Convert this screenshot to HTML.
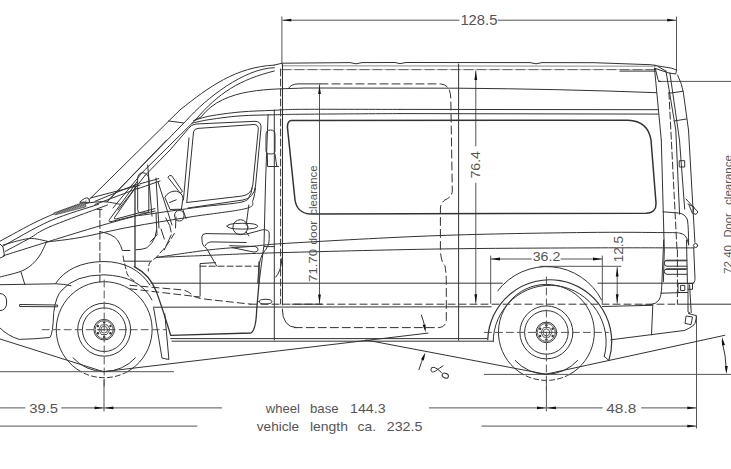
<!DOCTYPE html>
<html><head><meta charset="utf-8"><style>
html,body{margin:0;padding:0;background:#fff;width:731px;height:469px;overflow:hidden}
svg{display:block}
text{font-family:"Liberation Sans",sans-serif}
</style></head><body>
<svg width="731" height="469" viewBox="0 0 731 469" stroke-linecap="round" stroke-linejoin="round">
<line x1="281.9" y1="17" x2="281.9" y2="64" stroke="#555" stroke-width="1"/>
<line x1="676.5" y1="17" x2="676.5" y2="70" stroke="#555" stroke-width="1"/>
<line x1="283" y1="20.2" x2="459" y2="20.2" stroke="#555" stroke-width="1"/>
<line x1="498" y1="20.2" x2="676" y2="20.2" stroke="#555" stroke-width="1"/>
<polygon points="282.3,20.2 291.3,18.8 291.3,21.6" fill="#111"/>
<polygon points="676.2,20.2 667.2,21.6 667.2,18.8" fill="#111"/>
<line x1="658.4" y1="81.4" x2="731" y2="81.4" stroke="#555" stroke-width="1"/>
<line x1="0" y1="407.9" x2="25" y2="407.9" stroke="#555" stroke-width="1"/>
<line x1="61.7" y1="407.9" x2="103.5" y2="407.9" stroke="#555" stroke-width="1"/>
<polygon points="103.6,407.9 94.6,409.3 94.6,406.5" fill="#111"/>
<line x1="104.5" y1="407.9" x2="221.6" y2="407.9" stroke="#555" stroke-width="1"/>
<polygon points="104.4,407.9 113.4,406.5 113.4,409.3" fill="#111"/>
<line x1="104" y1="380" x2="104" y2="411" stroke="#555" stroke-width="1"/>
<line x1="429.4" y1="407.9" x2="546" y2="407.9" stroke="#555" stroke-width="1"/>
<polygon points="546,407.9 537,409.3 537,406.5" fill="#111"/>
<line x1="546.4" y1="380" x2="546.4" y2="411" stroke="#555" stroke-width="1"/>
<line x1="547" y1="407.9" x2="602.3" y2="407.9" stroke="#555" stroke-width="1"/>
<polygon points="546.8,407.9 555.8,406.5 555.8,409.3" fill="#111"/>
<line x1="641.6" y1="407.9" x2="696.5" y2="407.9" stroke="#555" stroke-width="1"/>
<polygon points="696.3,407.9 687.3,409.3 687.3,406.5" fill="#111"/>
<line x1="696.5" y1="316" x2="696.5" y2="428" stroke="#555" stroke-width="1"/>
<line x1="0" y1="426.1" x2="197" y2="426.1" stroke="#555" stroke-width="1"/>
<line x1="482" y1="426.1" x2="696" y2="426.1" stroke="#555" stroke-width="1"/>
<polygon points="696.3,426.1 687.3,427.5 687.3,424.7" fill="#111"/>
<line x1="490.7" y1="256" x2="490.7" y2="303.3" stroke="#555" stroke-width="1"/>
<line x1="602.3" y1="256" x2="602.3" y2="303.3" stroke="#555" stroke-width="1"/>
<line x1="491" y1="259" x2="531.3" y2="259" stroke="#555" stroke-width="1"/>
<line x1="561" y1="259" x2="602" y2="259" stroke="#555" stroke-width="1"/>
<polygon points="491,259 500,257.6 500,260.4" fill="#111"/>
<polygon points="602,259 593,260.4 593,257.6" fill="#111"/>
<line x1="540" y1="266.3" x2="621" y2="266.3" stroke="#555" stroke-width="1"/>
<line x1="617.2" y1="267.6" x2="617.2" y2="303" stroke="#555" stroke-width="1"/>
<polygon points="617.2,267.4 618.6,276.4 615.8,276.4" fill="#111"/>
<polygon points="617.2,303.3 615.8,294.3 618.6,294.3" fill="#111"/>
<line x1="475.8" y1="71" x2="475.8" y2="145.9" stroke="#555" stroke-width="1"/>
<line x1="475.8" y1="183.1" x2="475.8" y2="303" stroke="#555" stroke-width="1"/>
<polygon points="475.8,71 477.2,80 474.4,80" fill="#111"/>
<polygon points="475.8,303.3 474.4,294.3 477.2,294.3" fill="#111"/>
<line x1="319.5" y1="85" x2="319.5" y2="303.4" stroke="#555" stroke-width="1"/>
<polygon points="319.5,85 320.9,94 318.1,94" fill="#111"/>
<polygon points="319.5,303.6 318.1,294.6 320.9,294.6" fill="#111"/>
<path d="M80.93,371.68 A48,48 0 1 1 127.47,371.68" fill="none" stroke="#333" stroke-width="1"/>
<path d="M127.47,371.68 A48,48 0 0 1 80.93,371.68" fill="none" stroke="#333" stroke-width="1" stroke-dasharray="5 3"/>
<path d="M135.41,357.80 A42,42 0 0 1 72.99,357.80" fill="none" stroke="#333" stroke-width="1"/>
<circle cx="104.2" cy="329.7" r="26.5" fill="none" stroke="#333" stroke-width="1"/>
<circle cx="104.2" cy="329.7" r="21.8" fill="none" stroke="#333" stroke-width="1"/>
<circle cx="104.2" cy="329.7" r="10.3" fill="none" stroke="#333" stroke-width="1"/>
<circle cx="104.2" cy="329.7" r="9" fill="none" stroke="#333" stroke-width="0.8"/>
<circle cx="104.2" cy="329.7" r="3.4" fill="none" stroke="#333" stroke-width="0.8"/>
<polygon points="109.8,329.7 107,334.5 101.4,334.5 98.6,329.7 101.4,324.9 107,324.9" fill="none" stroke="#333" stroke-width="0.8"/>
<circle cx="104.20" cy="322.50" r="1.2" fill="#333"/>
<circle cx="97.96" cy="326.10" r="1.2" fill="#333"/>
<circle cx="97.96" cy="333.30" r="1.2" fill="#333"/>
<circle cx="104.20" cy="336.90" r="1.2" fill="#333"/>
<circle cx="110.44" cy="333.30" r="1.2" fill="#333"/>
<circle cx="110.44" cy="326.10" r="1.2" fill="#333"/>
<line x1="99.2" y1="329.7" x2="109.2" y2="329.7" stroke="#333" stroke-width="0.8"/>
<line x1="104.2" y1="280" x2="104.2" y2="387.7" stroke="#555" stroke-width="1" stroke-dasharray="7 4"/>
<line x1="42.2" y1="329.7" x2="166.2" y2="329.7" stroke="#555" stroke-width="1" stroke-dasharray="7 4"/>
<path d="M523.13,374.38 A48,48 0 1 1 569.67,374.38" fill="none" stroke="#333" stroke-width="1"/>
<path d="M569.67,374.38 A48,48 0 0 1 523.13,374.38" fill="none" stroke="#333" stroke-width="1" stroke-dasharray="5 3"/>
<path d="M577.61,360.50 A42,42 0 0 1 515.19,360.50" fill="none" stroke="#333" stroke-width="1"/>
<circle cx="546.4" cy="332.4" r="26.5" fill="none" stroke="#333" stroke-width="1"/>
<circle cx="546.4" cy="332.4" r="21.8" fill="none" stroke="#333" stroke-width="1"/>
<circle cx="546.4" cy="332.4" r="10.3" fill="none" stroke="#333" stroke-width="1"/>
<circle cx="546.4" cy="332.4" r="9" fill="none" stroke="#333" stroke-width="0.8"/>
<circle cx="546.4" cy="332.4" r="3.4" fill="none" stroke="#333" stroke-width="0.8"/>
<polygon points="552,332.4 549.2,337.2 543.6,337.2 540.8,332.4 543.6,327.6 549.2,327.6" fill="none" stroke="#333" stroke-width="0.8"/>
<circle cx="546.40" cy="325.20" r="1.2" fill="#333"/>
<circle cx="540.16" cy="328.80" r="1.2" fill="#333"/>
<circle cx="540.16" cy="336.00" r="1.2" fill="#333"/>
<circle cx="546.40" cy="339.60" r="1.2" fill="#333"/>
<circle cx="552.64" cy="336.00" r="1.2" fill="#333"/>
<circle cx="552.64" cy="328.80" r="1.2" fill="#333"/>
<line x1="541.4" y1="332.4" x2="551.4" y2="332.4" stroke="#333" stroke-width="0.8"/>
<line x1="546.4" y1="277" x2="546.4" y2="390.4" stroke="#555" stroke-width="1" stroke-dasharray="7 4"/>
<line x1="484.4" y1="332.4" x2="608.4" y2="332.4" stroke="#555" stroke-width="1" stroke-dasharray="7 4"/>
<path d="M89,199.7 L180,109.9 C209,86.9 235.7,67 274.3,65.1" fill="none" stroke="#333" stroke-width="1"/>
<path d="M106.9,201.9 L186.8,120 C205.8,98.6 244.5,68.2 274.3,67.7" fill="none" stroke="#333" stroke-width="1"/>
<path d="M142.7,172 L195.4,120 C218.5,92.8 239.7,79.6 274.3,71" fill="none" stroke="#333" stroke-width="1"/>
<path d="M194.5,120.6 L201.3,116.7 C224,86.9 272.2,89.5 305,88 L458,88.2 Q560,89 656.5,92.7" fill="none" stroke="#333" stroke-width="1"/>
<polyline points="274.3,65.1 282,63.2 350,62.6 356,63.8 362,62.6 395,62.5 400,63.6 406,62.5 530,62.6 536,63.8 542,62.6 594,62.7 650,64.7 656,65.4" fill="none" stroke="#333" stroke-width="1"/>
<line x1="282" y1="65.8" x2="656" y2="66.2" stroke="#888" stroke-width="1"/>
<line x1="282" y1="69.6" x2="656" y2="69.6" stroke="#333" stroke-width="1" stroke-dasharray="9 4"/>
<line x1="282" y1="69.6" x2="656" y2="69.6" stroke="#999" stroke-width="0.6"/>
<polyline points="654.5,65.4 671.8,68.2 676.6,70.1 675.7,74 668.9,73 654.5,68.2" fill="none" stroke="#333" stroke-width="1"/>
<line x1="658" y1="66.5" x2="666" y2="71.1" stroke="#333" stroke-width="1"/>
<path d="M193.6,120.6 C196.3,119.8 202.3,117.4 210,116 C217.7,114.6 229.3,113 240,112 C250.7,111 263.2,110.8 274,110.3 C284.8,109.8 284,109.4 305,109.3 C326,109.2 384.2,109.4 400,109.4" fill="none" stroke="#333" stroke-width="1"/>
<line x1="400" y1="109.4" x2="658.4" y2="109.7" stroke="#333" stroke-width="1"/>
<path d="M192,123.1 C195,122.5 202,120.7 210,119.5 C218,118.3 229.3,116.7 240,115.9 C250.7,115.1 263.2,115.1 274,114.8 C284.8,114.5 284,114.4 305,114.2 C326,114 384.2,113.7 400,113.6" fill="none" stroke="#333" stroke-width="1"/>
<line x1="400" y1="113.6" x2="658.4" y2="114.1" stroke="#333" stroke-width="1"/>
<line x1="168.6" y1="121" x2="183.3" y2="122.9" stroke="#333" stroke-width="1"/>
<path d="M291,120.4 L628,120.2 Q648,121 651,140 L656,203 Q656.5,213 646,213.3 L310,214 Q297,213 295,200 L287.4,127 Q287.5,121 291,120.4" fill="none" stroke="#333" stroke-width="1.5"/>
<line x1="458.6" y1="64" x2="458.6" y2="340.2" stroke="#333" stroke-width="1"/>
<line x1="151" y1="283.2" x2="502.3" y2="283.2" stroke="#333" stroke-width="1"/>
<line x1="598" y1="283.2" x2="694" y2="283.2" stroke="#333" stroke-width="1"/>
<line x1="250" y1="304.2" x2="678" y2="304.2" stroke="#333" stroke-width="1" stroke-dasharray="7 4"/>
<line x1="678" y1="304.2" x2="731" y2="304.2" stroke="#333" stroke-width="1"/>
<line x1="292" y1="304.2" x2="322" y2="304.2" stroke="#333" stroke-width="1"/>
<line x1="153.3" y1="307.2" x2="491.2" y2="306.8" stroke="#333" stroke-width="1"/>
<line x1="602.5" y1="306.5" x2="652.4" y2="305.3" stroke="#333" stroke-width="1"/>
<line x1="170.7" y1="338.6" x2="487" y2="338.6" stroke="#333" stroke-width="1"/>
<line x1="172" y1="341.2" x2="492.9" y2="341.2" stroke="#333" stroke-width="1"/>
<path d="M497.76,290.85 A61.4,61.4 0 0 1 601.51,299.92" fill="none" stroke="#333" stroke-width="1"/>
<path d="M487.74,339.64 A62,62 0 1 1 608.83,360.44" fill="none" stroke="#333" stroke-width="1.2"/>
<path d="M493.20,341.80 A56.5,56.5 0 1 1 604.27,356.42" fill="none" stroke="#333" stroke-width="1"/>
<path d="M55.5,283.6 Q70,262 104,261.5 Q135,262 150,285" fill="none" stroke="#333" stroke-width="1"/>
<path d="M62,290 Q75,275 104,274.8 Q140,276 152,300" fill="none" stroke="#333" stroke-width="1"/>
<path d="M134.3,266.6 Q150,275 156.4,291.6 Q163,310 170.7,335.3 L251,333 Q256,330 256.7,309.8 L259,283 L259,262" fill="none" stroke="#333" stroke-width="1.3"/>
<path d="M153.7,308.2 L162,358.1 L168.9,359.5 L164.8,313.8" fill="none" stroke="#333" stroke-width="1"/>
<line x1="604.3" y1="356.5" x2="608.8" y2="360.4" stroke="#333" stroke-width="1"/>
<path d="M663.7,240 L661.8,285 Q661.5,296 659,300 Q656,304.2 650,304.8 L640,305.5" fill="none" stroke="#333" stroke-width="1"/>
<line x1="652.8" y1="305.5" x2="651.5" y2="334.9" stroke="#333" stroke-width="1"/>
<path d="M610.8,339.8 L684.8,330.4 Q694,326 695,323.4 Q696.5,318 696.3,315.7 L688.5,313.5" fill="none" stroke="#333" stroke-width="1"/>
<path d="M686.5,316 L692.5,317 L691,324.7 L685.4,323.5 Z" fill="none" stroke="#333" stroke-width="1"/>
<path d="M688,292.7 L688,311.9 L690,313" fill="none" stroke="#333" stroke-width="1"/>
<line x1="689.6" y1="285" x2="691.2" y2="312.5" stroke="#333" stroke-width="1"/>
<line x1="677.4" y1="249.8" x2="677.4" y2="304.2" stroke="#333" stroke-width="1" stroke-dasharray="7 3"/>
<polygon points="678.4,283.5 688,283.5 688,292.5 678.4,292.5" fill="none" stroke="#333" stroke-width="1"/>
<polygon points="681,285.4 684.8,285.4 684.8,290.5 681,290.5" fill="none" stroke="#333" stroke-width="1"/>
<path d="M688,283.5 L692.5,283.5 L692.5,289.3 L688,289.3" fill="none" stroke="#333" stroke-width="1"/>
<line x1="661" y1="293.2" x2="678.4" y2="292.7" stroke="#333" stroke-width="1"/>
<line x1="686.5" y1="240" x2="687.4" y2="283.5" stroke="#333" stroke-width="1"/>
<path d="M693.7,248 L695,278.4 Q695,283 692.5,283.5" fill="none" stroke="#333" stroke-width="1"/>
<path d="M687,260.2 L667,260.2 Q664.3,260.2 664.3,263.2 Q664.3,266.2 667,266.2 L687,266.2" fill="none" stroke="#333" stroke-width="1"/>
<line x1="666" y1="260.8" x2="686" y2="260.8" stroke="#333" stroke-width="1"/>
<path d="M687,268.8 L667,268.8 Q664.3,268.8 664.3,271.5 Q664.3,274.3 667,274.3 L687,274.3" fill="none" stroke="#333" stroke-width="1"/>
<line x1="666" y1="269.4" x2="686" y2="269.4" stroke="#333" stroke-width="1"/>
<path d="M288.5,88.4 Q291,84 298,83.9 L320,83.9" fill="none" stroke="#333" stroke-width="1"/>
<path d="M320,83.9 L440.4,83.9 Q450.8,84.5 450.8,98.8 L452.3,191 Q452,197 444.9,200 Q440.4,203 440.4,209 L440.4,250.7 Q441,262 444.9,265.7 Q446.3,272 446.3,283.6 L446.3,319.4 Q446,327.6 438.9,327.6 L292,327.6" fill="none" stroke="#333" stroke-width="1" stroke-dasharray="8 4"/>
<path d="M156.5,257.4 C165.4,256.1 194.4,251.6 210,249.8 C225.6,248 236.3,247.6 250,246.5 C263.7,245.4 260.7,244.8 292,243 C323.3,241.2 389.3,237.3 438,235.6 C486.7,233.8 546.3,233 584,232.5 C621.7,232 648,232.5 664,232.6 C680,232.7 676.3,232.5 680,233.2 C683.7,233.9 684.6,235.2 686,237 C687.4,238.8 688.2,243.1 688.6,244.3" fill="none" stroke="#333" stroke-width="1"/>
<path d="M156.5,257.4 C165.4,257 190.2,256.1 210,255.3 C229.8,254.5 237,253.9 275,252.8 C313,251.8 386.5,249.8 438,249 C489.5,248.2 541.3,248.1 584,247.9 C626.7,247.7 675.7,247.9 694,247.9" fill="none" stroke="#333" stroke-width="1"/>
<circle cx="695.6" cy="245.5" r="2" fill="none" stroke="#333" stroke-width="1"/>
<line x1="123.7" y1="261.2" x2="151" y2="261.2" stroke="#333" stroke-width="1"/>
<path d="M0,284.7 L55.7,283.8 Q64,284 71,285.7" fill="none" stroke="#333" stroke-width="1"/>
<line x1="21.1" y1="272.3" x2="24.9" y2="284.7" stroke="#333" stroke-width="1"/>
<path d="M0,328 Q8,336 19.2,339.4 Q35,339 49.9,337.5 Q53,334 53.7,312.6 Q56,295 62,290" fill="none" stroke="#333" stroke-width="1"/>
<path d="M20,304.5 L57.6,305 L57.6,306.8 L20,306.5 Z" fill="none" stroke="#333" stroke-width="1"/>
<path d="M0,293.4 Q6.7,294 6.7,302 Q6.7,310.6 0,310.6" fill="none" stroke="#333" stroke-width="1"/>
<path d="M170,150 L188.5,128.5 Q191,124.5 196,124 L255,121.3 Q261.5,121.5 261,128 L255.5,186 Q254,198 243,200 L188,208" fill="none" stroke="#333" stroke-width="1"/>
<path d="M186.8,202 L193.5,132 Q194,128.7 198,128.4 L254,124.5 Q258.6,124.6 258.3,129.5 L252.8,185 Q251.5,195 241.6,196.1 L186.8,202.5" fill="none" stroke="#333" stroke-width="1"/>
<line x1="189" y1="138" x2="183.4" y2="200" stroke="#333" stroke-width="1"/>
<line x1="106.9" y1="201.9" x2="166.6" y2="140" stroke="#333" stroke-width="1"/>
<line x1="113" y1="208" x2="142.7" y2="172" stroke="#333" stroke-width="1"/>
<line x1="118" y1="210" x2="145" y2="175.5" stroke="#333" stroke-width="1"/>
<line x1="145" y1="175.5" x2="170" y2="150" stroke="#333" stroke-width="1"/>
<path d="M137.2,181.5 L109.5,219.5 Q108,222 111,221.6 L155,211" fill="none" stroke="#333" stroke-width="1"/>
<path d="M136,187 L114.5,217.5 Q113.5,219.3 116,219 L155,208.6" fill="none" stroke="#333" stroke-width="1"/>
<path d="M3.4,255.7 C16.2,251.7 58.9,238.2 80,231.8 C101.1,225.4 119,220.4 130,217.5 C141,214.6 134.3,216.3 146,214.6 C157.7,212.8 184,209.1 200,207 C216,204.9 233.7,204 242,202 C250.3,200 248.3,197.3 250,195 C251.7,192.7 251.7,189.2 252,188" fill="none" stroke="#333" stroke-width="1"/>
<path d="M46.9,242 C52.4,241.2 66.2,240 80,237.5 C93.8,235 111.7,230.4 130,227 C148.3,223.6 170.7,220.1 190,217 C209.3,213.9 235.5,211.3 246,208.5 C256.5,205.7 251.4,203.4 253,200 C254.6,196.6 255.1,190 255.5,188" fill="none" stroke="#333" stroke-width="1"/>
<path d="M0,241.2 C6.7,237.7 27.4,225.9 40,220 C52.6,214.1 65.4,209.1 75.6,206 C85.8,202.9 93.5,202 101,201.7 C108.5,201.4 117.1,203.9 120.3,204.3" fill="none" stroke="#333" stroke-width="1"/>
<path d="M2.6,246.3 C10.5,242.1 34,227.9 50,220.9 C66,213.9 90.5,207.1 98.6,204.3" fill="none" stroke="#333" stroke-width="1"/>
<path d="M5.1,251.4 C9.1,249.3 21.5,242.7 29,238.6 C36.5,234.5 36.9,232.3 50,226.7 C63.1,221.1 97.9,208.6 107.5,205" fill="none" stroke="#333" stroke-width="1"/>
<path d="M80,202 Q85,197 88,198 Q90,200 89.6,202 Z" fill="none" stroke="#333" stroke-width="1"/>
<line x1="90.9" y1="197.9" x2="140" y2="185.1" stroke="#333" stroke-width="1"/>
<polygon points="53.9,212.9 85,202 86,206.8 55.5,214.8" fill="#999" stroke="#444" stroke-width="0.7"/>
<line x1="56" y1="214.2" x2="59" y2="211.2" stroke="#333" stroke-width="0.6"/>
<line x1="58.7" y1="213.3" x2="61.7" y2="210.1" stroke="#333" stroke-width="0.6"/>
<line x1="61.4" y1="212.5" x2="64.4" y2="209.1" stroke="#333" stroke-width="0.6"/>
<line x1="64.1" y1="211.6" x2="67.1" y2="208" stroke="#333" stroke-width="0.6"/>
<line x1="66.8" y1="210.8" x2="69.8" y2="207" stroke="#333" stroke-width="0.6"/>
<line x1="69.5" y1="209.9" x2="72.5" y2="205.9" stroke="#333" stroke-width="0.6"/>
<line x1="72.2" y1="209.1" x2="75.2" y2="204.9" stroke="#333" stroke-width="0.6"/>
<line x1="74.9" y1="208.2" x2="77.9" y2="203.8" stroke="#333" stroke-width="0.6"/>
<line x1="77.6" y1="207.4" x2="80.6" y2="202.8" stroke="#333" stroke-width="0.6"/>
<line x1="80.3" y1="206.5" x2="83.3" y2="201.8" stroke="#333" stroke-width="0.6"/>
<line x1="83" y1="205.7" x2="86" y2="200.7" stroke="#333" stroke-width="0.6"/>
<path d="M3,245 C7.3,243.9 21.7,239.2 29,238.6 C36.3,238 43.9,240.8 46.9,241.2" fill="none" stroke="#333" stroke-width="1"/>
<path d="M46.9,241.2 C45.4,244 41.8,253.2 38,258 C34.2,262.8 30.3,266.8 24,270 C17.7,273.2 4,275.8 0,277" fill="none" stroke="#333" stroke-width="1"/>
<path d="M0,244 L3,247 L4.5,256 L0,258" fill="none" stroke="#333" stroke-width="1"/>
<line x1="99.9" y1="209.4" x2="99.9" y2="282" stroke="#333" stroke-width="1" stroke-dasharray="8 3"/>
<line x1="97" y1="209.4" x2="102" y2="209.4" stroke="#333" stroke-width="1"/>
<path d="M100,231.6 Q113,234 117.5,240 Q121.5,246 122.3,250.5 L129.8,250.5" fill="none" stroke="#333" stroke-width="1"/>
<path d="M123,256 Q125,266 127.1,273.8 Q130,279 134,280.6" fill="none" stroke="#333" stroke-width="1" stroke-dasharray="5 3"/>
<path d="M136,249.8 Q143,249.5 146.9,247.8 Q153,243 155.1,236.8 L156.5,230" fill="none" stroke="#333" stroke-width="1"/>
<path d="M174.3,233.4 Q170,241 164.7,247.8 Q160,253 156.5,257.4 Q151,261 149.7,262.8 Q148.3,266 148.3,271" fill="none" stroke="#333" stroke-width="1" stroke-dasharray="6 3"/>
<line x1="135" y1="185" x2="135" y2="266.6" stroke="#333" stroke-width="1.3"/>
<path d="M137.7,178 Q138,172.8 143,172.8 Q148.8,173 148.8,180 L148.8,210 Q148.8,212.9 146,212.9 L140.5,212.9 Q137.7,213 137.7,210 Z" fill="none" stroke="#333" stroke-width="1"/>
<line x1="95" y1="201.3" x2="137.2" y2="184" stroke="#333" stroke-width="1"/>
<line x1="95" y1="204.5" x2="125.7" y2="193" stroke="#333" stroke-width="1"/>
<line x1="125.7" y1="193" x2="137.2" y2="188.5" stroke="#333" stroke-width="1"/>
<line x1="137" y1="189" x2="160" y2="181" stroke="#333" stroke-width="1"/>
<line x1="140" y1="183.8" x2="158.8" y2="178.6" stroke="#333" stroke-width="1"/>
<path d="M168.1,176.8 Q169.5,174.8 171.6,175.6 L182.5,191.5 L180.5,192.8 Z" fill="none" stroke="#333" stroke-width="1"/>
<path d="M165,197 Q169,190.5 176.3,191.2 Q182,192.5 183,198 L181.4,209.2 L170.5,209.5 Z" fill="none" stroke="#333" stroke-width="1"/>
<line x1="169.5" y1="202.5" x2="176.3" y2="199.8" stroke="#333" stroke-width="1"/>
<path d="M156,212.9 L157,234.8 L150.2,242 M161,229 L164.3,239 M165.8,218 Q171,226 171.2,232" fill="none" stroke="#333" stroke-width="1"/>
<line x1="147.7" y1="165" x2="152" y2="216.2" stroke="#333" stroke-width="1"/>
<line x1="156" y1="178" x2="159" y2="228" stroke="#333" stroke-width="1"/>
<line x1="158" y1="182" x2="172" y2="225" stroke="#333" stroke-width="1"/>
<line x1="171.2" y1="234.8" x2="164.3" y2="250" stroke="#333" stroke-width="1"/>
<path d="M174.6,215.5 Q174.6,210.5 179.3,210.5 Q184,210.5 184,215.5 Q184,221 179.3,221 Q174.6,221 174.6,215.5" fill="none" stroke="#333" stroke-width="1"/>
<line x1="176" y1="217" x2="175.5" y2="228" stroke="#333" stroke-width="1"/>
<line x1="183" y1="210" x2="186" y2="218.5" stroke="#333" stroke-width="1"/>
<path d="M216.8,266.2 L206.5,248.3 Q202,246 202,240 L201.8,237 Q202,233.6 206,233.6 L246.2,234.2 L262.8,229.7 Q269.2,229.5 269.2,233 Q269.5,240 268.6,244.4 Q266,250 262.8,253.4 Q260,258 259,266.2 L257.7,283" fill="none" stroke="#333" stroke-width="1"/>
<path d="M205.2,245.7 Q207,241.9 212,241.9 L246.2,242.5" fill="none" stroke="#333" stroke-width="1"/>
<path d="M229.6,245.7 L255.2,246.5 Q259,248 258,250.5 Q256,252.3 254,252.1 L232.1,247.6" fill="none" stroke="#333" stroke-width="1"/>
<path d="M227,226.2 Q227,223.3 242.4,223.3 Q257.7,223.3 257.7,226.2 Q257.7,229.1 242.4,229.1 Q227,229.1 227,226.2 Z" fill="none" stroke="#333" stroke-width="1"/>
<circle cx="240.4" cy="227.2" r="7.5" fill="none" stroke="#333" stroke-width="1"/>
<line x1="248.8" y1="205" x2="246.2" y2="225.2" stroke="#333" stroke-width="1"/>
<line x1="246.2" y1="232" x2="249" y2="236" stroke="#333" stroke-width="1"/>
<path d="M200.1,296 L200.1,263.6 L215.5,262.6" fill="none" stroke="#333" stroke-width="1"/>
<line x1="200.1" y1="266.2" x2="259" y2="266.2" stroke="#333" stroke-width="1" stroke-dasharray="6 3"/>
<path d="M130,285.3 L183.5,290 Q190,292 192.8,295.8 Q196,298 204,299 L251,304.2" fill="none" stroke="#333" stroke-width="1" stroke-dasharray="7 4"/>
<path d="M130,288.8 L199.8,297" fill="none" stroke="#333" stroke-width="1" stroke-dasharray="7 4"/>
<path d="M259,301.6 Q259,299.3 265,299.3 Q271.9,299.3 271.9,301.6 Q271.9,304 265,304 Q259,304 259,301.6 Z" fill="none" stroke="#333" stroke-width="1"/>
<path d="M268.1,114.5 L265.6,180 L264,245 L259,283" fill="none" stroke="#333" stroke-width="1"/>
<line x1="274.3" y1="110" x2="274.3" y2="340" stroke="#333" stroke-width="1"/>
<line x1="280.6" y1="69" x2="280.6" y2="304" stroke="#333" stroke-width="1" stroke-dasharray="7 3"/>
<line x1="264.4" y1="246.6" x2="274.1" y2="246.6" stroke="#333" stroke-width="1"/>
<path d="M282,258 Q281,272 275.6,277.2" fill="none" stroke="#333" stroke-width="1"/>
<line x1="282.5" y1="64" x2="282.5" y2="305" stroke="#333" stroke-width="1"/>
<path d="M266,134.5 Q266,130 270.5,130 Q275,130 275,134.5 L275,151 Q275,154 270.5,154 Q266,154 266,151 Z" fill="none" stroke="#333" stroke-width="1"/>
<path d="M267.3,154 L267.6,166.5 L278.5,166.5 M275,154 L276.8,166.5" fill="none" stroke="#333" stroke-width="1"/>
<path d="M282.3,309 Q282.5,327 296,327.6" fill="none" stroke="#333" stroke-width="1"/>
<line x1="654.5" y1="68.2" x2="661.3" y2="140" stroke="#333" stroke-width="1"/>
<path d="M661.3,140 L664.3,250 L663.4,281.6" fill="none" stroke="#333" stroke-width="1"/>
<line x1="668.9" y1="92.2" x2="677" y2="249.8" stroke="#333" stroke-width="1" stroke-dasharray="7 3"/>
<path d="M666,71.1 L675.8,130 L679.6,214.3" fill="none" stroke="#333" stroke-width="1"/>
<path d="M669.9,73 L679.5,140 L684.7,209.2" fill="none" stroke="#333" stroke-width="1"/>
<path d="M677.6,75 Q682,84 683.3,92.2 L688.5,130 L694.9,242.4" fill="none" stroke="#333" stroke-width="1"/>
<line x1="669" y1="93.2" x2="683.3" y2="91.3" stroke="#333" stroke-width="1"/>
<line x1="674" y1="121" x2="686.5" y2="119" stroke="#333" stroke-width="1"/>
<path d="M679.6,160.7 L684.7,160.7 L684.7,167 L679.6,167 Z" fill="none" stroke="#333" stroke-width="1"/>
<path d="M686,199 L698,212 L696,214.3 L692.5,213.5 L689.2,205.5" fill="none" stroke="#333" stroke-width="1"/>
<path d="M688,204 L694,207 L693,212" fill="none" stroke="#333" stroke-width="1"/>
<path d="M663,211.8 L678.3,213 Q685,213.5 687.5,220 Q688.6,228 688.6,245" fill="none" stroke="#333" stroke-width="1"/>
<path d="M655.5,69.2 L658,79.5 Q658.5,81.7 661,81.7" fill="none" stroke="#333" stroke-width="1"/>
<line x1="620" y1="71.1" x2="655.5" y2="71.1" stroke="#333" stroke-width="1"/>
<line x1="0" y1="371.7" x2="173.5" y2="371.7" stroke="#555" stroke-width="1"/>
<line x1="484.4" y1="374.4" x2="731" y2="374.4" stroke="#555" stroke-width="1"/>
<line x1="0" y1="339" x2="103.5" y2="371.7" stroke="#333" stroke-width="1"/>
<line x1="103.5" y1="371.7" x2="428" y2="333.1" stroke="#333" stroke-width="1"/>
<line x1="366" y1="340" x2="545.7" y2="374.2" stroke="#333" stroke-width="1"/>
<line x1="545.7" y1="374.2" x2="724.8" y2="335.3" stroke="#333" stroke-width="1"/>
<path d="M421.4,315.1 Q424,322 425.2,329" fill="none" stroke="#333" stroke-width="1"/>
<polygon points="425.7,332.6 422.6,325.1 425.5,324.5" fill="#111"/>
<path d="M418.9,369.7 Q421.5,362 423.8,356" fill="none" stroke="#333" stroke-width="1"/>
<polygon points="425.4,352.4 423.8,360.4 421,359.3" fill="#111"/>
<path d="M722.1,341 Q726,356 726.4,371" fill="none" stroke="#333" stroke-width="1"/>
<polygon points="722.1,337.3 725,344.9 722,345.4" fill="#111"/>
<polygon points="726.4,374 724.8,366 727.8,366" fill="#111"/>
<path d="M443,365.8 Q439,368.5 435.5,371 Q431.5,373.3 430.9,370.2 Q430.6,366.8 434,367.2 Q437,368 441.5,372.6" fill="none" stroke="#333" stroke-width="1"/>
<ellipse cx="445.3" cy="375.6" rx="3.3" ry="2.3" transform="rotate(25 445.3 375.6)" fill="none" stroke="#333" stroke-width="1"/>
<text x="460.4" y="25.2" font-size="14" text-anchor="start" fill="#555" textLength="37" lengthAdjust="spacingAndGlyphs">128.5</text>
<text x="29.2" y="412.8" font-size="13.7" text-anchor="start" fill="#555" textLength="28.8" lengthAdjust="spacingAndGlyphs">39.5</text>
<text x="606.3" y="413" font-size="13.7" text-anchor="start" fill="#555" textLength="30" lengthAdjust="spacingAndGlyphs">48.8</text>
<text x="532.7" y="261.4" font-size="13.7" text-anchor="start" fill="#555" textLength="27.7" lengthAdjust="spacingAndGlyphs">36.2</text>
<text x="265.8" y="412.8" font-size="12.8" text-anchor="start" fill="#555" textLength="34.1" lengthAdjust="spacingAndGlyphs">wheel</text>
<text x="310" y="412.8" font-size="12.8" text-anchor="start" fill="#555" textLength="28.6" lengthAdjust="spacingAndGlyphs">base</text>
<text x="350" y="412.8" font-size="13.4" text-anchor="start" fill="#555" textLength="35.6" lengthAdjust="spacingAndGlyphs">144.3</text>
<text x="256.8" y="430.6" font-size="12.8" text-anchor="start" fill="#555" textLength="42.4" lengthAdjust="spacingAndGlyphs">vehicle</text>
<text x="310" y="430.6" font-size="12.8" text-anchor="start" fill="#555" textLength="38" lengthAdjust="spacingAndGlyphs">length</text>
<text x="357.6" y="430.6" font-size="12.8" text-anchor="start" fill="#555" textLength="18.4" lengthAdjust="spacingAndGlyphs">ca.</text>
<text x="386.7" y="430.6" font-size="13.4" text-anchor="start" fill="#555" textLength="35.8" lengthAdjust="spacingAndGlyphs">232.5</text>
<text x="480.5" y="178.6" font-size="12.5" text-anchor="start" fill="#555" textLength="27.6" lengthAdjust="spacingAndGlyphs" transform="rotate(-90 480.5 178.6)">76.4</text>
<text x="622.6" y="262.2" font-size="13.5" text-anchor="start" fill="#555" textLength="26.3" lengthAdjust="spacingAndGlyphs" transform="rotate(-90 622.6 262.2)">12.5</text>
<text x="316.6" y="281.9" font-size="11.5" text-anchor="start" fill="#555" textLength="32.9" lengthAdjust="spacingAndGlyphs" transform="rotate(-90 316.6 281.9)">71.70</text>
<text x="316.6" y="244.6" font-size="11.5" text-anchor="start" fill="#555" textLength="23.9" lengthAdjust="spacingAndGlyphs" transform="rotate(-90 316.6 244.6)">door</text>
<text x="316.6" y="214.7" font-size="11.5" text-anchor="start" fill="#555" textLength="49.3" lengthAdjust="spacingAndGlyphs" transform="rotate(-90 316.6 214.7)">clearance</text>
<text x="732" y="273.8" font-size="11.5" text-anchor="start" fill="#555" textLength="28.8" lengthAdjust="spacingAndGlyphs" transform="rotate(-90 732 273.8)">72.40</text>
<text x="732" y="237.4" font-size="11.5" text-anchor="start" fill="#555" textLength="24" lengthAdjust="spacingAndGlyphs" transform="rotate(-90 732 237.4)">Door</text>
<text x="732" y="204.9" font-size="11.5" text-anchor="start" fill="#555" textLength="49.8" lengthAdjust="spacingAndGlyphs" transform="rotate(-90 732 204.9)">clearance</text>
</svg></body></html>
